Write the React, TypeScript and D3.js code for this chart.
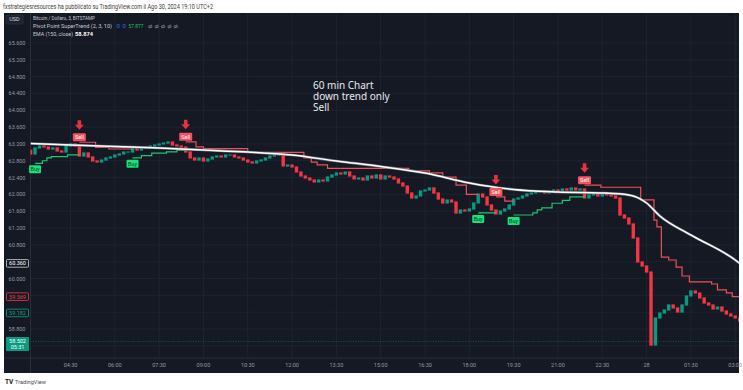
import React, { useRef, useEffect } from "react";
import * as d3 from "d3";

// 9-minute candles starting at 03:09 (closes)
const candleStart = "27 03:09";
const candleStepMin = 9;
const firstOpen = 63.05;
const closes = [
  62.961, 63.104, 63.151, 63.127, 63.08, 63.104, 63.032, 63.008, 63.151, 63.199,
  63.151, 62.913, 62.985, 62.89, 62.795, 62.771, 62.818, 62.866, 62.89, 62.937,
  62.961, 63.008, 63.008, 63.104, 63.056, 63.104, 63.127, 63.151, 63.175, 63.199,
  63.222, 63.246, 63.175, 63.151, 63.127, 63.008, 62.866, 62.818, 62.866, 62.795,
  62.842, 62.89, 62.913, 62.89, 62.937, 62.937, 62.89, 62.866, 62.818, 62.771,
  62.747, 62.795, 62.818, 62.866, 62.913, 62.937, 62.961, 62.676, 62.699, 62.652,
  62.533, 62.438, 62.39, 62.343, 62.295, 62.343, 62.319, 62.414, 62.462, 62.509,
  62.485, 62.533, 62.438, 62.367, 62.39, 62.343, 62.438, 62.39, 62.462, 62.367,
  62.438, 62.414, 62.367, 62.272, 62.2, 62.034, 61.915, 61.962, 62.081, 62.105,
  62.153, 62.034, 61.891, 61.796, 61.867, 61.82, 61.558, 61.629, 61.606, 61.653,
  61.796, 62.01, 61.939, 61.749, 61.629, 61.534, 61.606, 61.653, 61.749, 61.891,
  61.915, 61.962, 62.01, 62.034, 62.058, 62.081, 62.034, 62.081, 62.105, 62.081,
  62.129, 62.105, 62.153, 62.105, 62.129, 61.915, 61.986, 62.01, 61.962, 62.01,
  61.986, 61.962, 61.915, 61.511, 61.439, 61.297, 60.964, 60.393, 60.298, 60.155,
  58.42, 59.062, 59.18, 59.252, 59.371, 59.3, 59.204, 59.371, 59.585, 59.704,
  59.656, 59.537, 59.418, 59.371, 59.276, 59.323, 59.228, 59.157, 59.11, 59.062,
  58.99,
];

// EMA (150, close)
const emaPoints: [string, number][] = [
  ["27 03:09", 63.21], ["27 04:30", 63.175], ["27 06:00", 63.139], ["27 07:30", 63.104],
  ["27 09:00", 63.056], ["27 10:30", 63.008], ["27 12:00", 62.937], ["27 13:30", 62.795],
  ["27 15:00", 62.664], ["27 16:30", 62.509], ["27 18:00", 62.272], ["27 19:30", 62.117],
  ["27 21:00", 62.058], ["27 22:30", 62.034], ["27 23:24", 61.986], ["28 00:00", 61.796],
  ["28 00:27", 61.487], ["28 01:30", 61.035], ["28 03:00", 60.441], ["28 03:09", 60.36],
];

// Pivot Point SuperTrend, one array per trend leg (first point = signal)
const stUp1: [string, number][] = [
  ["27 03:18", 62.74], ["27 03:33", 62.8], ["27 03:42", 62.87], ["27 03:51", 62.9],
  ["27 04:24", 62.94], ["27 04:48", 62.94],
];
const stDown1: [string, number][] = [
  ["27 04:48", 63.24], ["27 05:21", 63.12], ["27 05:48", 63.08], ["27 06:36", 63.08],
];
const stUp2: [string, number][] = [
  ["27 06:36", 62.87], ["27 06:54", 62.92], ["27 07:15", 62.98], ["27 07:45", 63.01],
  ["27 08:06", 63.05], ["27 08:24", 63.05],
];
const stDown2: [string, number][] = [
  ["27 08:24", 63.25], ["27 08:45", 63.13], ["27 09:00", 63.09], ["27 10:30", 63.0],
  ["27 12:24", 62.87], ["27 12:39", 62.77], ["27 12:51", 62.7], ["27 13:12", 62.62],
  ["27 15:57", 62.56], ["27 16:39", 62.51], ["27 17:06", 62.41], ["27 17:33", 62.22],
  ["27 17:54", 62.0], ["27 18:18", 62.0],
];
const stUp3: [string, number][] = [["27 18:18", 61.56], ["27 18:54", 61.56]];
const stDown3: [string, number][] = [["27 18:54", 61.94], ["27 19:12", 61.84], ["27 19:30", 61.84]];
const stUp4: [string, number][] = [
  ["27 19:30", 61.51], ["27 20:09", 61.56], ["27 20:18", 61.63], ["27 20:27", 61.68],
  ["27 20:48", 61.79], ["27 21:09", 61.86], ["27 21:24", 61.94], ["27 21:54", 61.94],
];
const stDown4: [string, number][] = [
  ["27 21:54", 62.22], ["27 22:27", 62.17], ["27 23:48", 61.87], ["28 00:15", 61.39],
  ["28 00:21", 61.23], ["28 00:30", 60.51], ["28 00:45", 60.44], ["28 01:00", 60.27],
  ["28 01:12", 60.06], ["28 01:27", 59.92], ["28 02:12", 59.87], ["28 02:24", 59.73],
  ["28 02:42", 59.66], ["28 02:54", 59.57], ["28 03:09", 59.57],
];
const superTrend = [
  { dir: "up", pts: stUp1 }, { dir: "down", pts: stDown1 },
  { dir: "up", pts: stUp2 }, { dir: "down", pts: stDown2 },
  { dir: "up", pts: stUp3 }, { dir: "down", pts: stDown3 },
  { dir: "up", pts: stUp4 }, { dir: "down", pts: stDown4 },
];

const priceTicks = [65.6, 65.2, 64.8, 64.4, 64.0, 63.6, 63.2, 62.8, 62.4, 62.0, 61.6, 61.2, 60.8, 60.4, 60.0, 59.6, 59.2, 58.8, 58.4];
const timeTicks = [
  "27 04:30", "27 06:00", "27 07:30", "27 09:00", "27 10:30", "27 12:00", "27 13:30", "27 15:00",
  "27 16:30", "27 18:00", "27 19:30", "27 21:00", "27 22:30", "28 00:00", "28 01:30", "28 03:00",
];

// price scale badges
const scaleBadges = [
  { value: 60.36, kind: "ema" },
  { value: 59.569, kind: "red" },
  { value: 59.182, kind: "green" },
];
const lastPrice = 58.502;
const countdown = "05:31";

const noteLines = ["60 min Chart", "down trend only", "Sell"];

const toDate = (s: string) => new Date(`2024-08-${s.slice(0, 2)}T${s.slice(3)}:00Z`);

export default function App() {
  const svgRef = useRef<SVGSVGElement>(null);

  useEffect(() => {
    const svg = d3.select(svgRef.current);
    svg.selectAll("*").remove();

    const bg = "#151924";
    const grid = "#1f2330";
    const axisText = "#9598a1";
    const up = "#089981";
    const down = "#f23645";
    const font = "Roboto, 'Noto Sans', sans-serif";

    const plot = { left: 30.5, right: 739, top: 13, bottom: 358 };

    const x = d3.scaleUtc().domain([toDate("27 04:30"), toDate("28 01:30")]).range([70.5, 690.9]);
    const y = d3.scaleLinear().domain([58.8, 65.6]).range([329, 43]);

    svg.append("rect").attr("width", 743).attr("height", 390).attr("fill", "#ffffff");

    // header
    svg.append("text")
      .attr("x", 3).attr("y", 9)
      .attr("font-family", font).attr("font-size", 6.5).attr("fill", "#3b3b3b")
      .attr("textLength", 210).attr("lengthAdjust", "spacingAndGlyphs")
      .text("fxstrategiesresources ha pubblicato su TradingView.com il Ago 30, 2024 19:10 UTC+2");

    // dark panel
    svg.append("rect").attr("x", 4).attr("y", 13).attr("width", 735).attr("height", 360).attr("fill", bg);

    const defs = svg.append("defs");
    defs.append("clipPath").attr("id", "plotclip").append("rect")
      .attr("x", plot.left).attr("y", plot.top)
      .attr("width", plot.right - plot.left).attr("height", plot.bottom - plot.top);

    // grid
    const g = svg.append("g");
    g.selectAll("line.h").data(priceTicks).enter().append("line")
      .attr("x1", plot.left).attr("x2", plot.right)
      .attr("y1", (d) => y(d)).attr("y2", (d) => y(d))
      .attr("stroke", grid).attr("stroke-width", 1);
    g.selectAll("line.v").data(timeTicks).enter().append("line")
      .attr("x1", (d) => x(toDate(d))).attr("x2", (d) => x(toDate(d)))
      .attr("y1", plot.top).attr("y2", plot.bottom)
      .attr("stroke", grid).attr("stroke-width", 1);
    g.append("line").attr("x1", plot.left).attr("x2", plot.left).attr("y1", plot.top).attr("y2", 373)
      .attr("stroke", "#2a2e39");
    g.append("line").attr("x1", 4).attr("x2", 739).attr("y1", plot.bottom).attr("y2", plot.bottom)
      .attr("stroke", "#2a2e39");

    const pg = svg.append("g").attr("clip-path", "url(#plotclip)");

    // last price line
    pg.append("line")
      .attr("x1", plot.left).attr("x2", plot.right)
      .attr("y1", y(lastPrice)).attr("y2", y(lastPrice))
      .attr("stroke", up).attr("stroke-opacity", 0.45).attr("stroke-dasharray", "1 1.5");

    // candles
    const t0 = toDate(candleStart);
    const candles = closes.map((c, i) => ({
      t: d3.utcMinute.offset(t0, i * candleStepMin),
      o: i === 0 ? firstOpen : closes[i - 1],
      c,
    }));
    const bw = 3.4;
    pg.selectAll("rect.candle").data(candles).enter().append("rect")
      .attr("x", (d) => x(d.t) - bw / 2)
      .attr("y", (d) => y(Math.max(d.o, d.c)) - 0.6)
      .attr("width", bw)
      .attr("height", (d) => Math.abs(y(d.o) - y(d.c)) + 1.2)
      .attr("fill", (d) => (d.c >= d.o ? up : down));

    // supertrend
    const stLine = d3.line<[string, number]>()
      .x((d) => x(toDate(d[0])))
      .y((d) => y(d[1]))
      .curve(d3.curveStepAfter);
    superTrend.forEach((s) => {
      pg.append("path")
        .attr("d", stLine(s.pts))
        .attr("fill", "none")
        .attr("stroke", s.dir === "up" ? "#1fc46f" : "#ef4f57")
        .attr("stroke-width", 1.2);
    });

    // EMA
    const emaLine = d3.line<[string, number]>()
      .x((d) => x(toDate(d[0])))
      .y((d) => y(d[1]))
      .curve(d3.curveMonotoneX);
    pg.append("path").attr("d", emaLine(emaPoints)).attr("fill", "none")
      .attr("stroke", "#6d707a").attr("stroke-width", 2.6);
    pg.append("path").attr("d", emaLine(emaPoints)).attr("fill", "none")
      .attr("stroke", "#ffffff").attr("stroke-width", 1.5);

    // buy / sell markers
    const mk = svg.append("g");
    superTrend.forEach((s) => {
      const mx = x(toDate(s.pts[0][0]));
      const my = y(s.pts[0][1]);
      if (s.dir === "down") {
        const ly = my - 5;
        mk.append("rect").attr("x", mx - 6.5).attr("y", ly - 4).attr("width", 13).attr("height", 8)
          .attr("rx", 1.2).attr("fill", "#f7525f");
        mk.append("text").attr("x", mx).attr("y", ly + 2).attr("text-anchor", "middle")
          .attr("font-family", font).attr("font-size", 5.5).attr("fill", "#ffffff").text("Sell");
        const ay = ly - 12;
        mk.append("path")
          .attr("d", `M${mx - 1.8},${ay - 5} h3.6 v4.5 h2.6 l-4.4,5 l-4.4,-5 h2.6 z`)
          .attr("fill", "#e53340");
      } else {
        const ly = my + 6;
        mk.append("rect").attr("x", mx - 6).attr("y", ly - 4).attr("width", 12).attr("height", 8)
          .attr("rx", 1.2).attr("fill", "#18e07a");
        mk.append("text").attr("x", mx).attr("y", ly + 2).attr("text-anchor", "middle")
          .attr("font-family", font).attr("font-size", 5.5).attr("fill", "#0b3b22").text("Buy");
      }
    });

    // note
    noteLines.forEach((line, i) => {
      svg.append("text").attr("x", 313).attr("y", 89 + i * 11)
        .attr("font-family", "'Noto Sans', 'Open Sans', sans-serif").attr("font-size", 10)
        .attr("fill", "#e8e9ee").text(line);
    });

    // price scale labels
    const badgeVals = [...scaleBadges.map((b) => b.value), lastPrice];
    const fmt = d3.format(".3f");
    priceTicks
      .filter((p) => badgeVals.every((b) => Math.abs(y(p) - y(b)) > 9))
      .forEach((p) => {
        svg.append("text").attr("x", 17).attr("y", y(p) + 2).attr("text-anchor", "middle")
          .attr("font-family", font).attr("font-size", 5.5).attr("fill", axisText).text(fmt(p));
      });
    scaleBadges.forEach((b) => {
      const col = b.kind === "ema" ? "#d1d4dc" : b.kind === "red" ? "#e5404b" : "#15a085";
      svg.append("rect").attr("x", 6.5).attr("y", y(b.value) - 3.8).attr("width", 22).attr("height", 7.6)
        .attr("fill", bg).attr("stroke", col).attr("stroke-width", 0.8).attr("rx", 0.8);
      svg.append("text").attr("x", 17.5).attr("y", y(b.value) + 2).attr("text-anchor", "middle")
        .attr("font-family", font).attr("font-size", 5.5).attr("fill", b.kind === "ema" ? "#ffffff" : col)
        .text(fmt(b.value));
    });
    svg.append("rect").attr("x", 6).attr("y", y(lastPrice) - 4.5).attr("width", 23).attr("height", 14)
      .attr("fill", up).attr("rx", 0.8);
    svg.append("text").attr("x", 17.5).attr("y", y(lastPrice) + 1.5).attr("text-anchor", "middle")
      .attr("font-family", font).attr("font-size", 5.5).attr("fill", "#ffffff").text(fmt(lastPrice));
    svg.append("text").attr("x", 17.5).attr("y", y(lastPrice) + 7.5).attr("text-anchor", "middle")
      .attr("font-family", font).attr("font-size", 5.5).attr("fill", "#ffffff").text(countdown);

    // USD badge
    svg.append("rect").attr("x", 6).attr("y", 15).attr("width", 17).attr("height", 9).attr("rx", 1)
      .attr("fill", "#1e222d").attr("stroke", "#3a3e4a").attr("stroke-width", 0.6);
    svg.append("text").attr("x", 14.5).attr("y", 21.3).attr("text-anchor", "middle")
      .attr("font-family", font).attr("font-size", 5.5).attr("fill", "#d1d4dc").text("USD");

    // time axis
    const fmtTime = d3.utcFormat("%H:%M");
    const fmtDay = d3.utcFormat("%-d");
    timeTicks.forEach((s) => {
      const d = toDate(s);
      const lbl = d.getUTCHours() === 0 && d.getUTCMinutes() === 0 ? fmtDay(d) : fmtTime(d);
      svg.append("text").attr("x", x(d)).attr("y", 367).attr("text-anchor", "middle")
        .attr("font-family", font).attr("font-size", 5.5).attr("fill", axisText).text(lbl);
    });

    // legend
    const lg = svg.append("g").attr("font-family", font).attr("font-size", 6);
    lg.append("text").attr("x", 33).attr("y", 20.3).attr("fill", "#c7cad3")
      .attr("textLength", 62).attr("lengthAdjust", "spacingAndGlyphs").text("Bitcoin / Dollaro, 3, BITSTAMP");
    lg.append("text").attr("x", 33).attr("y", 28).attr("fill", "#c7cad3")
      .attr("textLength", 79).attr("lengthAdjust", "spacingAndGlyphs").text("Pivot Point SuperTrend (2, 3, 10)");
    lg.append("text").attr("x", 116.5).attr("y", 28).attr("fill", "#2f6bff").text("0");
    lg.append("text").attr("x", 122.5).attr("y", 28).attr("fill", "#2f6bff").text("0");
    lg.append("text").attr("x", 128.5).attr("y", 28).attr("fill", "#1fc46f")
      .attr("textLength", 15).attr("lengthAdjust", "spacingAndGlyphs").text("57.877");
    lg.append("text").attr("x", 148).attr("y", 28).attr("fill", "#8a8d96")
      .attr("textLength", 30).attr("lengthAdjust", "spacingAndGlyphs").text("ø ø ø ø ø");
    lg.append("text").attr("x", 33).attr("y", 36).attr("fill", "#c7cad3")
      .attr("textLength", 40).attr("lengthAdjust", "spacingAndGlyphs").text("EMA (150, close)");
    lg.append("text").attr("x", 75).attr("y", 36).attr("fill", "#ffffff").attr("font-weight", "bold")
      .attr("textLength", 18).attr("lengthAdjust", "spacingAndGlyphs").text("58.874");

    // footer logo
    svg.append("text").attr("x", 5).attr("y", 383.5).attr("font-family", font).attr("font-size", 6.5)
      .attr("font-weight", "bold").attr("fill", "#131722").text("TV");
    svg.append("text").attr("x", 15).attr("y", 383.5).attr("font-family", font).attr("font-size", 6)
      .attr("fill", "#4a4a4a").attr("textLength", 31).attr("lengthAdjust", "spacingAndGlyphs").text("TradingView");
  }, []);

  return (
    <svg
      ref={svgRef}
      width={743}
      height={390}
      style={{ position: "absolute", left: 0, top: 0, display: "block" }}
    />
  );
}
